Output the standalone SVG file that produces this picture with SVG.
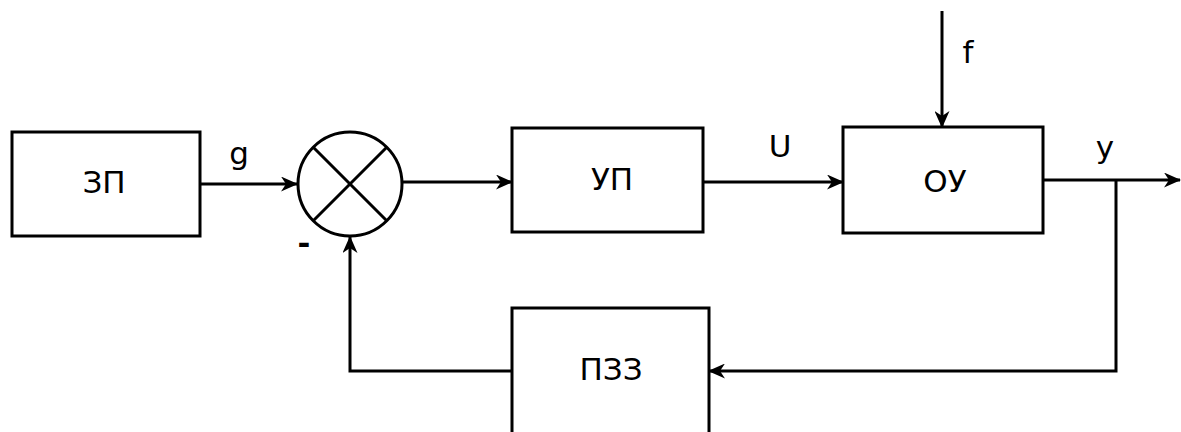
<svg xmlns="http://www.w3.org/2000/svg" width="1181" height="432" viewBox="0 0 1181 432">
<style>
.box{fill:#fff;stroke:#000;stroke-width:3}
.ln{fill:none;stroke:#000;stroke-width:3}
.t{font-family:"DejaVu Sans",sans-serif;font-size:31px;fill:#000;text-anchor:middle}
</style>
<defs>
<marker id="arr" viewBox="0 0 17 15" refX="16" refY="7.5" markerWidth="17" markerHeight="15" markerUnits="userSpaceOnUse" orient="auto">
<path d="M0,0 L17,7.5 L0,15 L5,7.5 Z" fill="#000"/>
</marker>
</defs>
<rect width="1181" height="432" fill="#fff"/>
<g id="connectors">
<line class="ln" x1="200" y1="184" x2="297" y2="184" marker-end="url(#arr)"/>
<line class="ln" x1="403" y1="182" x2="512" y2="182" marker-end="url(#arr)"/>
<line class="ln" x1="703" y1="182" x2="843" y2="182" marker-end="url(#arr)"/>
<line class="ln" x1="942" y1="11" x2="942" y2="127" marker-end="url(#arr)"/>
<line class="ln" x1="1043" y1="180" x2="1180" y2="180" marker-end="url(#arr)"/>
<polyline class="ln" points="1116,180 1116,371 709,371" marker-end="url(#arr)"/>
<polyline class="ln" points="512,371 350,371 350,237" marker-end="url(#arr)"/>
</g>
<g id="zp">
<rect class="box" x="12" y="132" width="188" height="104"/>
<text class="t" x="104" y="193">ЗП</text>
</g>
<g id="sum">
<circle cx="350" cy="184" r="52" fill="#fff" stroke="#000" stroke-width="3"/>
<line class="ln" x1="313" y1="147" x2="387" y2="221"/>
<line class="ln" x1="387" y1="147" x2="313" y2="221"/>
</g>
<g id="up">
<rect class="box" x="512" y="128" width="191" height="104"/>
<text class="t" x="612" y="190">УП</text>
</g>
<g id="ou">
<rect class="box" x="843" y="127" width="200" height="106"/>
<text class="t" x="945" y="192">ОУ</text>
</g>
<g id="pzz">
<rect class="box" x="512" y="308" width="197" height="140"/>
<text class="t" x="611" y="380">ПЗЗ</text>
</g>
<g id="labels">
<text class="t" x="239" y="164">g</text>
<text class="t" x="780" y="157">U</text>
<text class="t" x="968" y="63">f</text>
<text class="t" x="1105" y="158">y</text>
<text class="t" x="304" y="254" font-weight="bold">-</text>
</g>
</svg>
